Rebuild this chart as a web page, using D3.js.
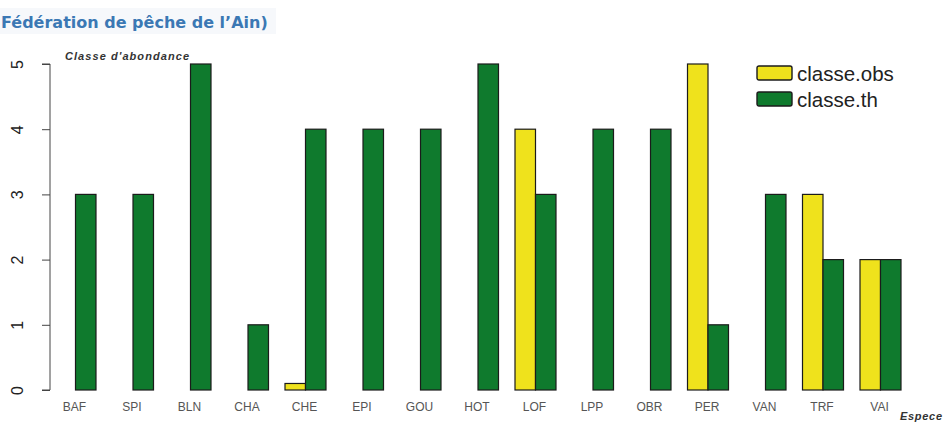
<!DOCTYPE html>
<html lang="fr">
<head>
<meta charset="utf-8" />
<title>Classe d'abondance</title>
<script src="https://cdn.jsdelivr.net/npm/d3@7"></script>
<style>
  body { margin: 0; background: #fff; }
  svg { display: block; font-family: "Liberation Sans", Arial, sans-serif; }
</style>
</head>
<body>
<svg id="chart" width="945" height="423"></svg>
<script>
// especes et classes d'abondance
var especes = ["BAF", "SPI", "BLN", "CHA", "CHE", "EPI", "GOU", "HOT", "LOF", "LPP", "OBR", "PER", "VAN", "TRF", "VAI"];
var classeObs = [0, 0, 0, 0, 0.1, 0, 0, 0, 4, 0, 0, 5, 0, 3, 2];
var classeTh = [3, 3, 5, 1, 4, 4, 4, 5, 3, 4, 4, 1, 3, 2, 2];
var series = ["classe.obs", "classe.th"];
var yTicks = [0, 1, 2, 3, 4, 5];
var couleurs = ["#efe21c", "#0f7a2d"];

var svg = d3.select("#chart");

// titre
svg.append("rect")
    .attr("x", 0).attr("y", 8).attr("width", 276).attr("height", 26)
    .attr("fill", "#f6f8fb");
svg.append("text")
    .attr("x", 1).attr("y", 28)
    .attr("fill", "#3b78b4")
    .style("font-family", "'DejaVu Sans', sans-serif")
    .style("font-weight", "bold")
    .style("font-size", "16px")
    .text("Fédération de pêche de l’Ain)");

var x = d3.scaleBand()
    .domain(especes)
    .range([55, 901])
    .paddingInner(0.287)
    .paddingOuter(0);

var xs = d3.scaleBand()
    .domain(series)
    .range([0, x.bandwidth()]);

var y = d3.scaleLinear()
    .domain([0, 5])
    .range([390, 64]);

var data = especes.map(function(e, i) {
  return { espece: e, valeurs: [classeObs[i], classeTh[i]] };
});

// barres
var groupes = svg.append("g").selectAll("g")
    .data(data)
    .enter().append("g")
    .attr("transform", function(d) { return "translate(" + x(d.espece) + ",0)"; });

groupes.selectAll("rect")
    .data(function(d) {
      return d.valeurs.map(function(v, j) { return { s: series[j], v: v, j: j }; })
        .filter(function(b) { return b.v > 0; });
    })
    .enter().append("rect")
    .attr("x", function(b) { return xs(b.s); })
    .attr("y", function(b) { return y(b.v); })
    .attr("width", xs.bandwidth())
    .attr("height", function(b) { return y(0) - y(b.v); })
    .attr("fill", function(b) { return couleurs[b.j]; })
    .attr("stroke", "#1b1b1b")
    .attr("stroke-width", 1.2);

// axe y
var yAxis = svg.append("g")
    .attr("transform", "translate(50,0)")
    .call(d3.axisLeft(y).tickValues(yTicks).tickSize(8).tickFormat(d3.format("d")));
yAxis.select(".domain").attr("stroke", "#444").attr("d", "M-8," + y(5) + "H0V" + y(0) + "H-8");
yAxis.selectAll(".tick line").attr("stroke", "#444");
yAxis.selectAll(".tick text")
    .attr("x", null).attr("dy", null)
    .attr("transform", "translate(-31,0) rotate(-90)")
    .attr("text-anchor", "middle")
    .attr("dominant-baseline", "middle")
    .attr("fill", "#222")
    .style("font-size", "16px")
    .style("font-family", "'Liberation Sans', Arial, sans-serif");

// etiquettes x
svg.append("g").selectAll("text")
    .data(especes)
    .enter().append("text")
    .attr("x", function(d) { return x(d) + x.bandwidth() / 2 - 1; })
    .attr("y", 411)
    .attr("text-anchor", "middle")
    .attr("fill", "#555")
    .style("font-size", "12px")
    .text(function(d) { return d; });

// libelles d'axes
svg.append("text")
    .attr("x", 65).attr("y", 60)
    .attr("fill", "#333")
    .attr("textLength", 124)
    .style("font-size", "11px")
    .style("font-style", "italic")
    .style("font-weight", "bold")
    .text("Classe d'abondance");

svg.append("text")
    .attr("x", 900).attr("y", 420)
    .attr("fill", "#333")
    .attr("textLength", 42)
    .style("font-size", "11px")
    .style("font-style", "italic")
    .style("font-weight", "bold")
    .text("Espece");

// legende
var legende = svg.append("g").attr("transform", "translate(757,66)");
series.forEach(function(s, i) {
  legende.append("rect")
      .attr("x", 0).attr("y", i * 26)
      .attr("width", 35).attr("height", 14)
      .attr("rx", 2)
      .attr("fill", couleurs[i])
      .attr("stroke", "#1b1b1b")
      .attr("stroke-width", 1.4);
  legende.append("text")
      .attr("x", 40).attr("y", i * 26 + 15)
      .attr("fill", "#222")
      .style("font-size", "20.5px")
      .text(s);
});
</script>
</body>
</html>
